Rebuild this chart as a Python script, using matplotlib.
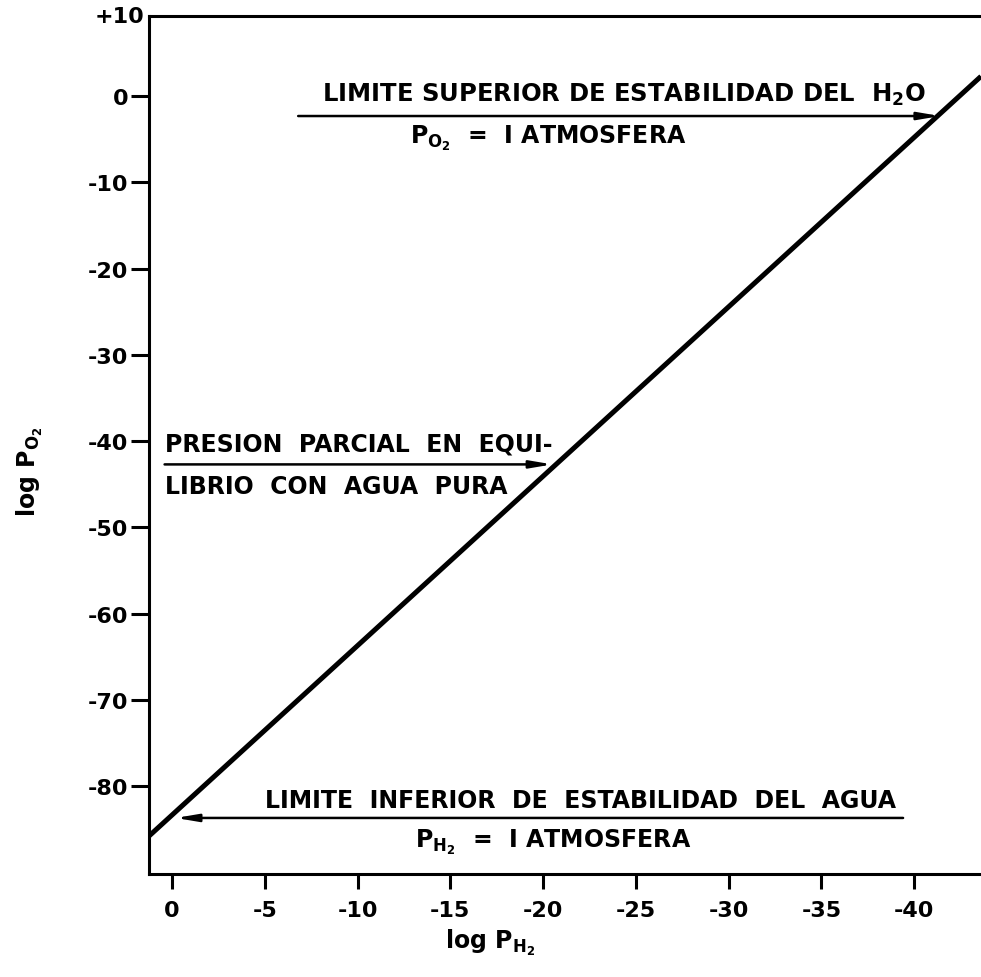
import numpy as np
import matplotlib
matplotlib.use("Agg")
import matplotlib.pyplot as plt

plt.rcParams['font.family'] = 'DejaVu Sans'
plt.rcParams['font.weight'] = 'bold'
plt.rcParams['mathtext.default'] = 'bf'

# equilibrium line: log P_O2 vs log P_H2
log_ph2 = [1.24, -43.6]
log_po2 = [-85.8, 2.3]

x_ticks = [0, -5, -10, -15, -20, -25, -30, -35, -40]
x_labels = ['0', '-5', '-10', '-15', '-20', '-25', '-30', '-35', '-40']
y_ticks = [0, -10, -20, -30, -40, -50, -60, -70, -80]
y_labels = ['0', '-10', '-20', '-30', '-40', '-50', '-60', '-70', '-80']

# arrows (tail -> tip)
arrow_upper = [(-6.8, -2.3), (-41.4, -2.3)]
arrow_middle = [(0.4, -42.7), (-20.5, -42.7)]
arrow_lower = [(-39.4, -83.7), (-0.2, -83.7)]

fig = plt.figure(figsize=(9.81, 9.78), dpi=100)
ax = fig.add_axes([149/981, 1-875/978, 1-149/981, (875-17)/978])

ax.plot(log_ph2, log_po2, color='black', lw=3.6, solid_capstyle='butt')

ax.set_xlim(1.24, -43.6)
ax.set_ylim(-90.2, 9.3)

for s in ['left', 'bottom', 'top']:
    ax.spines[s].set_linewidth(2.2)
ax.spines['right'].set_visible(False)

ax.set_xticks(x_ticks)
ax.set_xticklabels(x_labels, fontsize=16, fontweight='bold')
ax.set_yticks(y_ticks)
ax.set_yticklabels(y_labels, fontsize=16, fontweight='bold')
ax.tick_params(axis='x', length=11, width=2.2, pad=8)
ax.tick_params(axis='y', length=13, width=2.2, pad=2)
ax.text(-0.005, 1.0, '+10', transform=ax.transAxes, ha='right', va='center',
        fontsize=16, fontweight='bold')

ap = dict(arrowstyle='-|>,head_length=1.3,head_width=0.22', lw=1.8, color='black',
          shrinkA=0, shrinkB=0)
for tail, tip in [arrow_upper, arrow_middle, arrow_lower]:
    ax.annotate('', xy=tip, xytext=tail, arrowprops=ap)

tk = dict(fontsize=17, fontweight='bold', va='center', ha='left')
ax.text(-8.1, 0.3, 'LIMITE SUPERIOR DE ESTABILIDAD DEL  H$_2$O',
        **dict(tk, fontsize=17.5))
ax.text(-12.8, -4.8, 'P$_{O_2}$  =  I ATMOSFERA', **tk)
ax.text(0.4, -40.3, 'PRESION  PARCIAL  EN  EQUI-', **tk)
ax.text(0.4, -45.2, 'LIBRIO  CON  AGUA  PURA', **tk)
ax.text(-5.0, -81.6, 'LIMITE  INFERIOR  DE  ESTABILIDAD  DEL  AGUA', **tk)
ax.text(-13.1, -86.4, 'P$_{H_2}$  =  I ATMOSFERA', **tk)

ax.set_xlabel('log P$_{H_2}$', fontsize=17, fontweight='bold')
ax.set_ylabel('log P$_{O_2}$', fontsize=17, fontweight='bold')
ax.xaxis.set_label_coords(0.41, -0.062)
ax.yaxis.set_label_coords(-0.125, 0.47)

fig.savefig('out.png', dpi=100)
